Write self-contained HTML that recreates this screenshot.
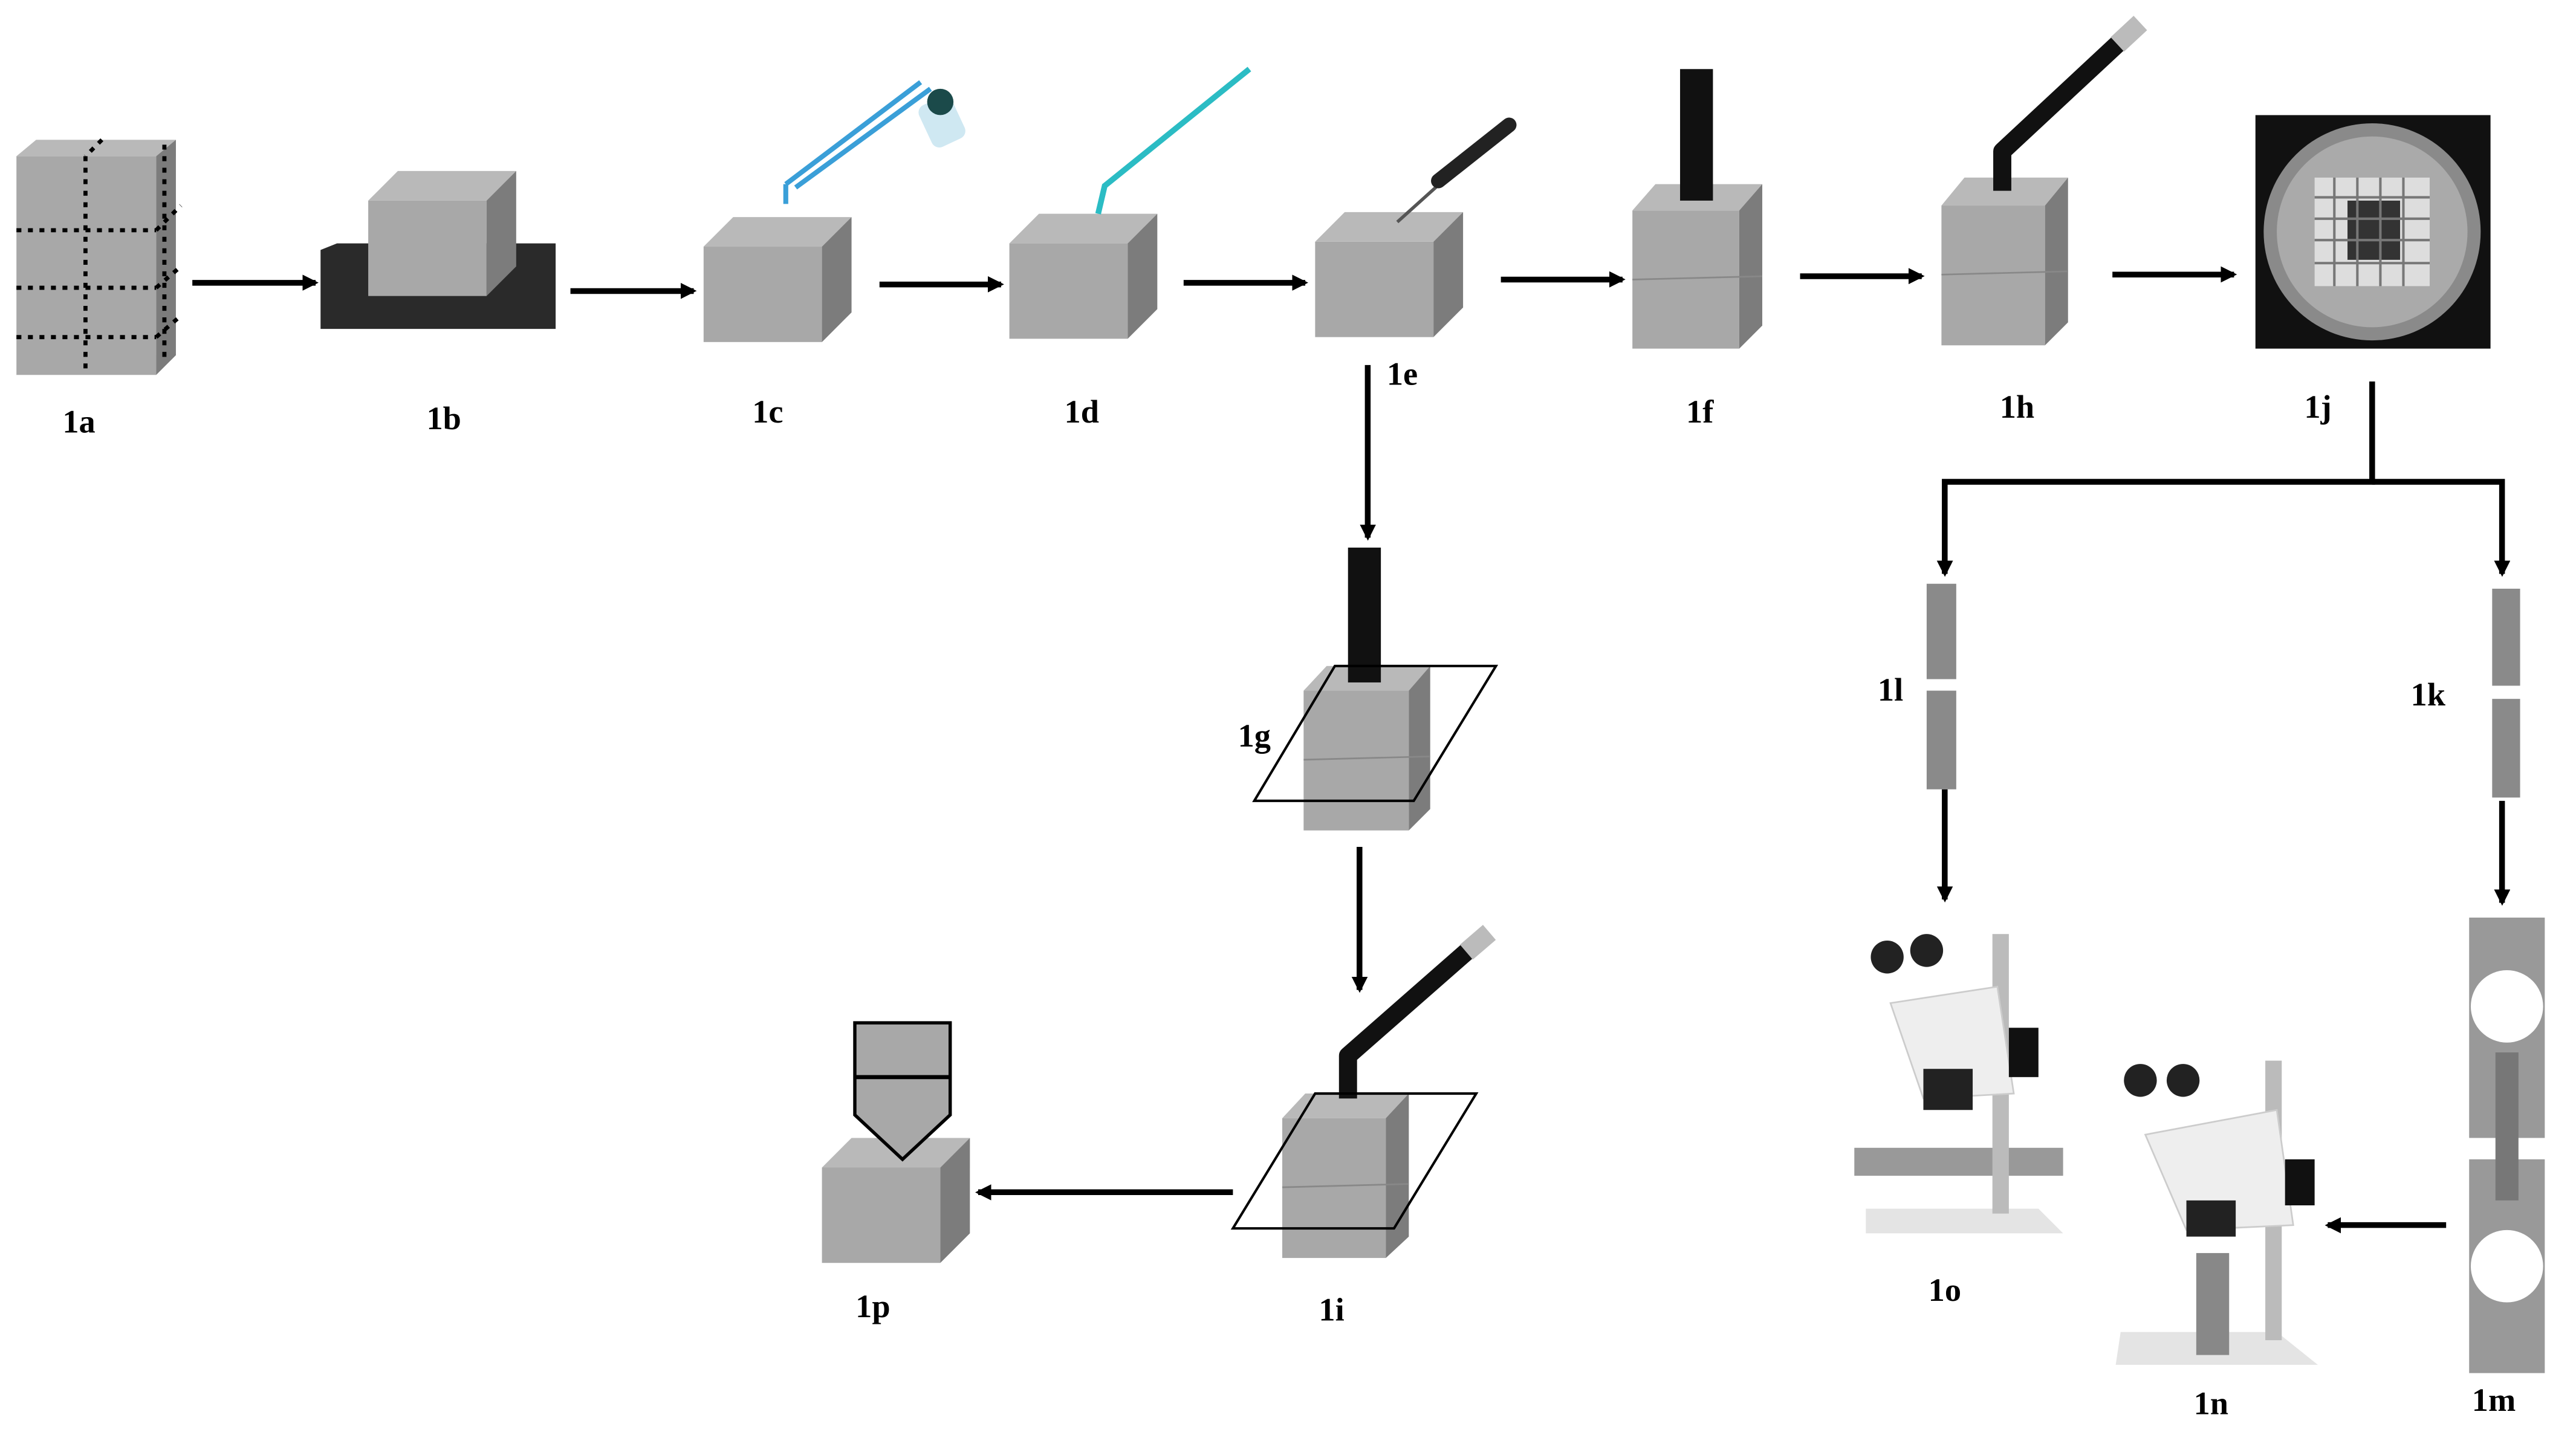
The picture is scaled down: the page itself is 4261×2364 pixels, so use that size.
<!DOCTYPE html>
<html><head><meta charset="utf-8"><style>html,body{margin:0;padding:0;background:#fff}svg{display:block}</style></head><body>
<svg width="4261" height="2364" viewBox="0 0 1567 869" preserveAspectRatio="none" xmlns="http://www.w3.org/2000/svg" font-family="Liberation Serif, serif" font-weight="bold" font-size="20">
<defs>
<marker id="a" markerWidth="10" markerHeight="10" refX="8" refY="5" orient="auto" markerUnits="userSpaceOnUse"><path d="M0,0 L10,5 L0,10 z" fill="#000" transform="scale(1.4) translate(-3,-1.5)"/></marker>
<g id="cube"><rect x="0" y="0" width="72" height="58" fill="#a8a8a8"/><path d="M0,0 L18,-18 L90,-18 L72,0z" fill="#b9b9b9"/><path d="M72,0 L90,-18 L90,40 L72,58z" fill="#7c7c7c"/></g>
</defs>
<g stroke="#000" stroke-width="3.5" fill="none" marker-end="url(#a)">
<line x1="117" y1="172" x2="192" y2="172"/><line x1="347" y1="177" x2="422" y2="177"/><line x1="535" y1="173" x2="609" y2="173"/><line x1="720" y1="172" x2="794" y2="172"/><line x1="913" y1="170" x2="987" y2="170"/><line x1="1095" y1="168" x2="1169" y2="168"/><line x1="1285" y1="167" x2="1359" y2="167"/>
<line x1="832" y1="222" x2="832" y2="327"/><line x1="827" y1="515" x2="827" y2="602"/><line x1="750" y1="725" x2="595" y2="725"/>
<polyline points="1443,232 1443,293 1183,293 1183,349"/><polyline points="1443,293 1522,293 1522,349"/>
<line x1="1183" y1="480" x2="1183" y2="547"/><line x1="1522" y1="487" x2="1522" y2="549"/><line x1="1488" y1="745" x2="1416" y2="745"/>
</g>
<rect x="10" y="95" width="85" height="133" fill="#a8a8a8"/><path d="M10,95 L22,85 L107,85 L95,95z" fill="#b9b9b9"/><path d="M95,95 L107,85 L107,216 L95,228z" fill="#7c7c7c"/>
<g stroke="#000" stroke-width="2.5" stroke-dasharray="3,4"><line x1="10" y1="140" x2="95" y2="140"/><line x1="10" y1="175" x2="95" y2="175"/><line x1="10" y1="205" x2="95" y2="205"/><line x1="52" y1="95" x2="52" y2="228"/><line x1="62" y1="85" x2="52" y2="95"/><line x1="95" y1="140" x2="110" y2="125"/><line x1="95" y1="175" x2="110" y2="162"/><line x1="95" y1="205" x2="110" y2="192"/><line x1="100" y1="88" x2="100" y2="220"/></g>
<path d="M195,152 L205,148 L338,148 L338,200 L195,200z" fill="#2a2a2a"/>
<use href="#cube" x="224" y="122"/>
<use href="#cube" x="428" y="150"/>
<g stroke="#3a9fd8" stroke-width="3" fill="none"><line x1="478" y1="112" x2="560" y2="50"/><line x1="484" y1="114" x2="566" y2="54"/><line x1="478" y1="112" x2="478" y2="124"/></g>
<rect x="562" y="60" width="22" height="28" rx="5" fill="#cfe8f2" transform="rotate(-25 573 74)"/><circle cx="572" cy="62" r="8" fill="#1b4a4a"/>
<use href="#cube" x="614" y="148"/>
<polyline points="668,130 672,113 760,42" stroke="#2bbcc4" stroke-width="3.5" fill="none"/>
<use href="#cube" x="800" y="147"/>
<line x1="850" y1="135" x2="880" y2="108" stroke="#555" stroke-width="2"/><line x1="875" y1="110" x2="918" y2="76" stroke="#222" stroke-width="9" stroke-linecap="round"/>
<rect x="993" y="128" width="65" height="84" fill="#a8a8a8"/><path d="M993,128 L1007,112 L1072,112 L1058,128z" fill="#b9b9b9"/><path d="M1058,128 L1072,112 L1072,198 L1058,212z" fill="#7c7c7c"/><line x1="993" y1="170" x2="1072" y2="168" stroke="#888" stroke-width="1"/>
<rect x="1022" y="42" width="20" height="80" fill="#111"/>
<rect x="1181" y="125" width="63" height="85" fill="#a8a8a8"/><path d="M1181,125 L1195,108 L1258,108 L1244,125z" fill="#b9b9b9"/><path d="M1244,125 L1258,108 L1258,196 L1244,210z" fill="#7c7c7c"/><line x1="1181" y1="167" x2="1258" y2="165" stroke="#888" stroke-width="1"/>
<polyline points="1218,116 1218,92 1290,25" stroke="#111" stroke-width="11" fill="none" stroke-linejoin="round"/><line x1="1288" y1="27" x2="1302" y2="14" stroke="#bbb" stroke-width="12"/>
<rect x="1372" y="70" width="143" height="142" fill="#111"/><circle cx="1443" cy="141" r="66" fill="#8a8a8a"/><circle cx="1443" cy="141" r="58" fill="#aaa"/>
<rect x="1408" y="108" width="70" height="66" fill="#ddd"/><rect x="1428" y="122" width="32" height="36" fill="#333"/>
<g stroke="#777" stroke-width="1.5"><line x1="1408" y1="120" x2="1478" y2="120"/><line x1="1408" y1="133" x2="1478" y2="133"/><line x1="1408" y1="146" x2="1478" y2="146"/><line x1="1408" y1="160" x2="1478" y2="160"/><line x1="1420" y1="108" x2="1420" y2="174"/><line x1="1434" y1="108" x2="1434" y2="174"/><line x1="1448" y1="108" x2="1448" y2="174"/><line x1="1462" y1="108" x2="1462" y2="174"/></g>
<rect x="1172" y="355" width="18" height="58" fill="#8a8a8a"/><rect x="1172" y="420" width="18" height="60" fill="#8a8a8a"/>
<rect x="1516" y="358" width="17" height="59" fill="#8a8a8a"/><rect x="1516" y="425" width="17" height="60" fill="#8a8a8a"/>
<rect x="1502" y="558" width="46" height="134" fill="#999"/><rect x="1502" y="705" width="46" height="130" fill="#999"/><rect x="1518" y="640" width="14" height="90" fill="#777"/>
<circle cx="1525" cy="612" r="22" fill="#fff"/><circle cx="1525" cy="770" r="22" fill="#fff"/>
<g><path d="M1135,735 L1240,735 L1255,750 L1135,750z" fill="#e4e4e4"/><rect x="1128" y="698" width="127" height="17" fill="#999"/><rect x="1212" y="568" width="10" height="170" fill="#bbb"/><path d="M1150,610 L1215,600 L1225,665 L1170,668z" fill="#eee" stroke="#ccc"/><rect x="1222" y="625" width="18" height="30" fill="#111"/><rect x="1170" y="650" width="30" height="25" fill="#222"/><circle cx="1148" cy="582" r="10" fill="#222"/><circle cx="1172" cy="578" r="10" fill="#222"/></g>
<g><path d="M1290,810 L1385,810 L1410,830 L1287,830z" fill="#e4e4e4"/><rect x="1378" y="645" width="10" height="170" fill="#bbb"/><path d="M1305,690 L1385,675 L1395,745 L1330,748z" fill="#eee" stroke="#ccc"/><rect x="1390" y="705" width="18" height="28" fill="#111"/><rect x="1330" y="730" width="30" height="22" fill="#222"/><circle cx="1302" cy="657" r="10" fill="#222"/><circle cx="1328" cy="657" r="10" fill="#222"/><rect x="1336" y="762" width="20" height="62" fill="#888"/></g>
<rect x="793" y="420" width="64" height="85" fill="#a8a8a8"/><path d="M793,420 L807,405 L870,405 L857,420z" fill="#b9b9b9"/><path d="M857,420 L870,405 L870,492 L857,505z" fill="#7c7c7c"/><line x1="793" y1="462" x2="870" y2="460" stroke="#888"/>
<rect x="820" y="333" width="20" height="82" fill="#111"/>
<polygon points="763,487 812,405 910,405 860,487" fill="none" stroke="#000" stroke-width="1.5"/>
<rect x="780" y="680" width="63" height="85" fill="#a8a8a8"/><path d="M780,680 L794,665 L857,665 L843,680z" fill="#b9b9b9"/><path d="M843,680 L857,665 L857,752 L843,765z" fill="#7c7c7c"/><line x1="780" y1="722" x2="857" y2="720" stroke="#888"/>
<polyline points="820,668 820,642 893,578" stroke="#111" stroke-width="11" fill="none" stroke-linejoin="round"/><line x1="892" y1="579" x2="906" y2="567" stroke="#bbb" stroke-width="12"/>
<polygon points="750,747 800,665 898,665 848,747" fill="none" stroke="#000" stroke-width="1.5"/>
<use href="#cube" x="500" y="710"/>
<path d="M520,622 L578,622 L578,678 L549,705 L520,678z" fill="#a8a8a8" stroke="#000" stroke-width="2"/><line x1="520" y1="655" x2="578" y2="655" stroke="#000" stroke-width="2.5"/>
<g text-anchor="middle"><text x="48" y="263">1a</text><text x="270" y="261">1b</text><text x="467" y="257">1c</text><text x="658" y="257">1d</text><text x="853" y="234">1e</text><text x="1034" y="257">1f</text><text x="1227" y="254">1h</text><text x="1410" y="254">1j</text><text x="1150" y="426">1l</text><text x="1477" y="429">1k</text><text x="763" y="454">1g</text><text x="1183" y="791">1o</text><text x="1345" y="860">1n</text><text x="1517" y="858">1m</text><text x="810" y="803">1i</text><text x="531" y="801">1p</text></g>
</svg>
</body></html>
